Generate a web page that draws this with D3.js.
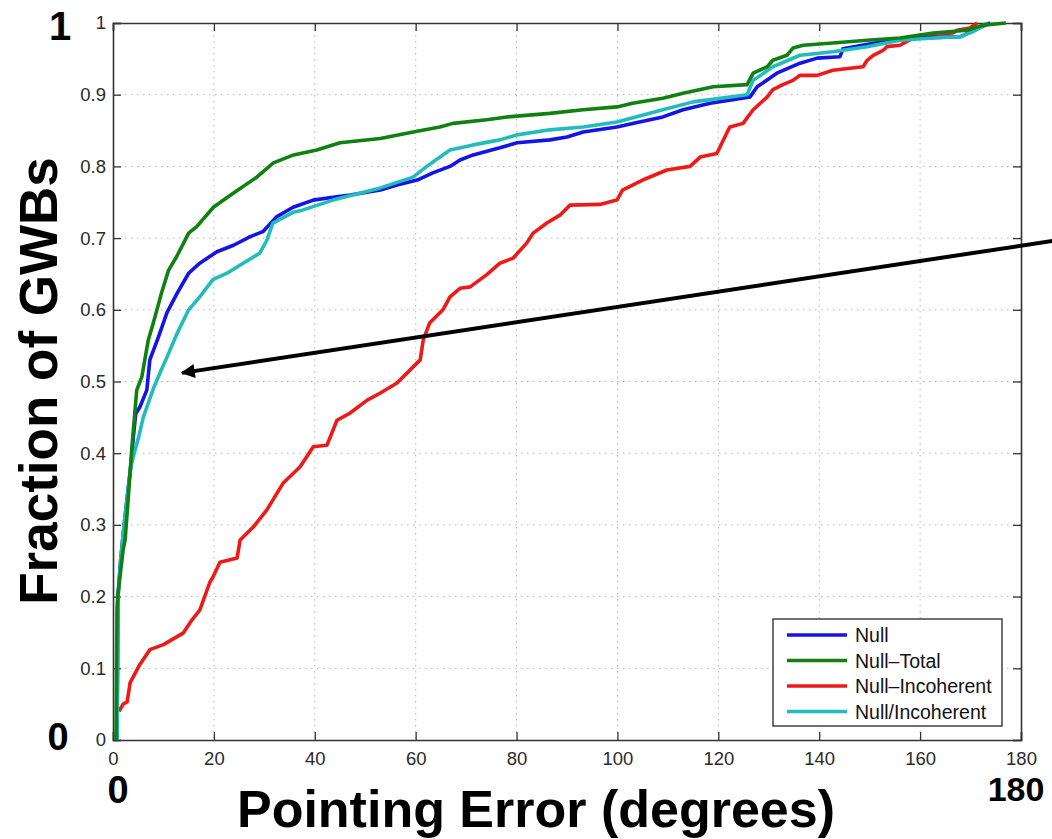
<!DOCTYPE html>
<html>
<head>
<meta charset="utf-8">
<script src="https://cdn.jsdelivr.net/npm/d3@7"></script>
<style>
  body { margin: 0; background: #fff; }
  svg { display: block; }
  text { font-family: "Liberation Sans", Arial, Helvetica, sans-serif; }
</style>
</head>
<body>
<svg id="chart" width="1052" height="839"></svg>
<script>
// ---- data (pointing error in degrees, cumulative fraction of GWBs) ----
const xTicks = [0, 20, 40, 60, 80, 100, 120, 140, 160, 180];
const yTicks = [0, 0.1, 0.2, 0.3, 0.4, 0.5, 0.6, 0.7, 0.8, 0.9, 1];
const yTickLabels = ["0", "0.1", "0.2", "0.3", "0.4", "0.5", "0.6", "0.7", "0.8", "0.9", "1"];

const seriesNames = ["Null", "Null\u2013Total", "Null\u2013Incoherent", "Null/Incoherent"];
const seriesColors = ["#1414e6", "#108010", "#ee1a1a", "#22bcbc"];

const nullData = [[0.8,0],[1,0.2],[1.5,0.25],[2.2,0.3],[3,0.35],[3.5,0.38],[4,0.42],[4.5,0.455],[5.3,0.464],[6.7,0.488],[7.3,0.53],[9,0.562],[10.7,0.596],[12.7,0.623],[15,0.651],[17.2,0.665],[20.6,0.681],[23.9,0.69],[27.2,0.702],[29.7,0.709],[32.5,0.73],[35.7,0.743],[39.7,0.753],[43.6,0.757],[47,0.76],[53,0.767],[56.3,0.774],[60.3,0.781],[63.4,0.791],[66.8,0.8],[68.8,0.809],[71.4,0.816],[76.7,0.826],[80.1,0.833],[86.6,0.837],[90,0.841],[93.2,0.848],[99.9,0.855],[103,0.86],[109,0.869],[113,0.879],[118.4,0.888],[126.3,0.897],[127.7,0.911],[131.6,0.93],[136.2,0.944],[139.6,0.951],[144.1,0.953],[144.7,0.964],[152.7,0.974],[159.4,0.979],[168,0.981],[169.3,0.985],[171.9,0.994],[173.9,1.0]];

const nullTotalData = [[0.6,0],[0.8,0.185],[1,0.205],[2,0.265],[2.4,0.279],[3,0.335],[3.7,0.404],[4.7,0.488],[5.7,0.506],[7,0.558],[8,0.582],[9.6,0.623],[11,0.655],[12.6,0.674],[15,0.707],[16.6,0.716],[19.9,0.743],[23.9,0.763],[28.5,0.785],[31.8,0.805],[35.8,0.816],[40.4,0.823],[45,0.833],[53,0.839],[59.5,0.848],[64.8,0.855],[67.4,0.86],[74.1,0.865],[78.1,0.869],[86.6,0.874],[93.2,0.879],[99.9,0.883],[103,0.888],[109,0.895],[113,0.902],[119,0.911],[125.7,0.914],[126.9,0.93],[129.7,0.939],[130.8,0.948],[133.6,0.955],[134.8,0.965],[136.8,0.969],[142.7,0.972],[149.5,0.976],[156,0.979],[162.6,0.986],[169.3,0.99],[172.5,0.997],[177,1.0]];

const nullIncoherentData = [[1.2,0.04],[2,0.05],[2.8,0.053],[3.4,0.08],[5.3,0.105],[7.3,0.126],[10,0.133],[13.9,0.149],[15.6,0.167],[17.2,0.181],[19.2,0.22],[19.8,0.227],[21.2,0.248],[24.6,0.254],[25.2,0.279],[27.8,0.297],[30.5,0.321],[33.7,0.358],[37.1,0.381],[39.7,0.409],[42.4,0.411],[44.4,0.446],[47,0.456],[50.4,0.474],[53,0.484],[56.3,0.498],[60.3,0.526],[60.9,0.53],[61.5,0.558],[62.8,0.582],[65.4,0.6],[66.8,0.618],[68.8,0.63],[70.8,0.632],[74.1,0.649],[76.7,0.665],[79.3,0.672],[82,0.693],[83.3,0.707],[86,0.721],[88.6,0.732],[90.6,0.746],[96.5,0.747],[99.9,0.753],[101,0.767],[105,0.781],[109.8,0.795],[114.4,0.8],[116.4,0.813],[119.7,0.818],[121.7,0.847],[122.3,0.855],[124.9,0.86],[126.9,0.879],[129.7,0.897],[130.8,0.907],[132.8,0.914],[134.8,0.92],[136.2,0.927],[139.6,0.927],[142.7,0.934],[146.1,0.937],[148.7,0.939],[149.5,0.948],[150.7,0.955],[152.7,0.962],[153.4,0.967],[156,0.969],[158.6,0.979],[160,0.983],[166.5,0.986],[167.3,0.99],[169.9,0.993],[171.3,1.0]];

const nullSlashIncoherentData = [[0.8,0],[1,0.2],[1.5,0.25],[2.2,0.3],[3,0.35],[3.5,0.38],[4.2,0.40],[5,0.42],[6,0.45],[7,0.47],[8,0.49],[9.5,0.515],[10.7,0.534],[12.7,0.567],[15,0.6],[17.2,0.618],[19.8,0.642],[22.6,0.651],[25.8,0.665],[29.1,0.679],[30.5,0.697],[31.7,0.721],[35.7,0.736],[37.1,0.738],[43.6,0.753],[53,0.77],[59.5,0.785],[62.2,0.8],[66.8,0.823],[71.4,0.83],[76.7,0.837],[80.1,0.844],[86.6,0.851],[93.2,0.855],[99.9,0.862],[109,0.879],[115,0.89],[125.7,0.9],[126.9,0.92],[130.8,0.939],[136.2,0.955],[142.7,0.96],[149.5,0.967],[156,0.976],[162.6,0.979],[168,0.981],[170.5,0.988],[173.3,1.0]];

// annotation arrow (data units): tail -> tip
const arrowTail = [186.2, 0.696];
const arrowTip = [13.7, 0.512];

(function draw() {
  const svg = d3.select("#chart");
  const pL = 113, pR = 1021, pT = 23, pB = 740;
  const x = d3.scaleLinear().domain([0, 180]).range([pL, pR]);
  const y = d3.scaleLinear().domain([0, 1]).range([pB, pT]);

  // grid
  const grid = svg.append("g");
  grid.selectAll("line.gx").data(xTicks.slice(1, -1)).join("line").attr("class", "gx")
    .attr("x1", d => x(d)).attr("x2", d => x(d)).attr("y1", pT).attr("y2", pB)
    .attr("stroke", "#b4b4b4").attr("stroke-width", 1).attr("stroke-dasharray", "1.5 4.5");
  grid.selectAll("line.gy").data(yTicks.slice(1, -1)).join("line").attr("class", "gy")
    .attr("y1", d => y(d)).attr("y2", d => y(d)).attr("x1", pL).attr("x2", pR)
    .attr("stroke", "#b4b4b4").attr("stroke-width", 1).attr("stroke-dasharray", "1.5 4.5");

  // axes (inward ticks on all sides, MATLAB style)
  const axColor = "#333";
  const gB = svg.append("g").attr("transform", `translate(0,${pB})`)
    .call(d3.axisBottom(x).tickValues(xTicks).tickSize(-8).tickPadding(12).tickFormat(d3.format("d")));
  const gT = svg.append("g").attr("transform", `translate(0,${pT})`)
    .call(d3.axisTop(x).tickValues(xTicks).tickSize(-8).tickFormat(""));
  const gL = svg.append("g").attr("transform", `translate(${pL},0)`)
    .call(d3.axisLeft(y).tickValues(yTicks).tickSize(-8).tickPadding(7).tickFormat((d, i) => yTickLabels[i]));
  const gR = svg.append("g").attr("transform", `translate(${pR},0)`)
    .call(d3.axisRight(y).tickValues(yTicks).tickSize(-8).tickFormat(""));
  [gB, gT, gL, gR].forEach(g => {
    g.select(".domain").attr("stroke", axColor).attr("stroke-width", 1.6);
    g.selectAll(".tick line").attr("stroke", axColor).attr("stroke-width", 1.3);
    g.selectAll(".tick text").attr("fill", "#2a2a2a").style("font-size", "18.5px")
      .style("font-family", '"Liberation Sans", Arial, sans-serif');
  });

  // curves
  const line = d3.line().x(d => x(d[0])).y(d => y(d[1]));
  const allSeries = [nullData, nullTotalData, nullIncoherentData, nullSlashIncoherentData];
  const drawOrder = [2, 0, 3, 1];
  svg.append("clipPath").attr("id", "clip").append("rect")
    .attr("x", pL).attr("y", pT - 2).attr("width", pR - pL).attr("height", pB - pT + 2);
  svg.append("g").attr("clip-path", "url(#clip)")
    .selectAll("path").data(drawOrder).join("path")
    .attr("d", i => line(allSeries[i]))
    .attr("fill", "none").attr("stroke", i => seriesColors[i])
    .attr("stroke-width", 3.6).attr("stroke-linejoin", "round");

  // legend
  const lg = svg.append("g");
  lg.append("rect").attr("x", 773).attr("y", 619).attr("width", 229).attr("height", 107)
    .attr("fill", "#fff").attr("stroke", "#333").attr("stroke-width", 1.4);
  const rows = lg.selectAll("g").data(seriesNames).join("g")
    .attr("transform", (d, i) => `translate(0,${635 + i * 25.5})`);
  rows.append("line").attr("x1", 787).attr("x2", 847).attr("y1", 0).attr("y2", 0)
    .attr("stroke", (d, i) => seriesColors[i]).attr("stroke-width", 3.6);
  rows.append("text").attr("x", 855).attr("y", 7).text(d => d)
    .style("font-size", "19.5px").attr("fill", "#111");

  // arrow annotation
  const defs = svg.append("defs");
  defs.append("marker").attr("id", "ah").attr("viewBox", "0 0 10 10")
    .attr("refX", 9).attr("refY", 5).attr("markerWidth", 4.5).attr("markerHeight", 3.5)
    .attr("markerUnits", "strokeWidth").attr("orient", "auto")
    .append("path").attr("d", "M0,0 L10,5 L0,10 z").attr("fill", "#000");
  svg.append("line")
    .attr("x1", x(arrowTail[0])).attr("y1", y(arrowTail[1]))
    .attr("x2", x(arrowTip[0])).attr("y2", y(arrowTip[1]))
    .attr("stroke", "#000").attr("stroke-width", 4).attr("marker-end", "url(#ah)");

  // big labels
  const big = (t, xx, yy, size, anchor, rot) => {
    const el = svg.append("text").text(t).attr("x", xx).attr("y", yy)
      .attr("text-anchor", anchor).style("font-size", size + "px").style("font-weight", "bold")
      .attr("fill", "#000");
    if (rot) el.attr("transform", `rotate(${rot},${xx},${yy})`);
    return el;
  };
  big("1", 60, 40, 40, "middle");
  big("0", 58, 750, 38, "middle");
  big("0", 118, 803, 38, "middle");
  big("180", 1016, 801, 34, "middle");
  big("Pointing Error (degrees)", 536, 827, 52, "middle");
  big("Fraction of GWBs", 57, 381, 53, "middle", -90);
})();
</script>
</body>
</html>
